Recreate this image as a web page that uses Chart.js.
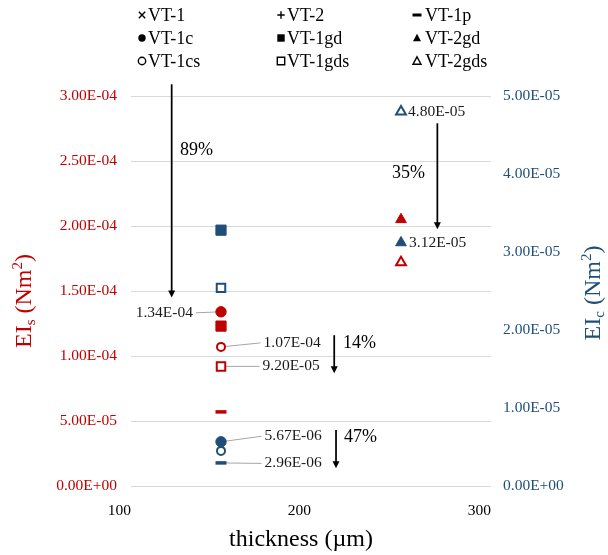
<!DOCTYPE html>
<html>
<head>
<meta charset="utf-8">
<script src="https://cdn.jsdelivr.net/npm/chart.js@4/dist/chart.umd.min.js"></script>
<style>
  body { margin: 0; background: #fff; }
  #wrap { width: 608px; height: 555px; }
</style>
</head>
<body>
<div id="wrap"><canvas id="eiChart" width="608" height="555"></canvas></div>
<script>
// specimens and values
const specimens = ['VT-1', 'VT-2', 'VT-1p', 'VT-1c', 'VT-1gd', 'VT-2gd', 'VT-1cs', 'VT-1gds', 'VT-2gds'];
const thickness = [null, null, 150, 150, 150, 250, 150, 150, 250];
const eiS = [null, null, 5.7e-5, 1.34e-4, 1.23e-4, 2.05e-4, 1.07e-4, 9.2e-5, 1.72e-4];
const eiC = [null, null, 2.96e-6, 5.67e-6, 3.28e-5, 3.12e-5, 4.5e-6, 2.54e-5, 4.8e-5];
const reductions = ['89%', '14%', '47%', '35%'];

const RED = '#C00000';
const BLUE = '#1F4E79';
const FONT = 'Liberation Serif';

const markers = ['crossRot', 'cross', 'dash', 'circle', 'rect', 'triangle', 'circle', 'rect', 'triangle'];
const filled = [true, true, true, true, true, true, false, false, false];

function fmt(v) {
    const [m, e] = Number(v).toExponential(2).split('e');
    const n = parseInt(e, 10);
    return m + 'E' + (n < 0 ? '-' : '+') + String(Math.abs(n)).padStart(2, '0');
}

function pointSize(style, isFilled) {
    if (style === 'circle') return isFilled ? 5.2 : 4;
    if (style === 'rect') return isFilled ? 7.2 : 6;
    if (style === 'triangle') return isFilled ? 6.2 : 5.7;
    if (style === 'dash') return 5.5;
    return 5;
}

function makeSet(i, values, axis, color) {
    const data = values[i] == null ? [] : [{ x: thickness[i], y: values[i] }];
    const st = markers[i];
    return {
        label: specimens[i] + (axis === 'yS' ? ' EIs' : ' EIc'),
        data: data,
        yAxisID: axis,
        // 'line' is the centred dash in Chart.js
        pointStyle: st === 'dash' ? 'line' : st,
        pointRadius: pointSize(st, filled[i]),
        backgroundColor: filled[i] ? color : '#ffffff',
        borderColor: color,
        borderWidth: st === 'dash' ? 3.5 : (filled[i] ? 1 : 2),
        showLine: false
    };
}

const datasets = [];
specimens.forEach((s, i) => {
    datasets.push(makeSet(i, eiS, 'yS', RED));
    datasets.push(makeSet(i, eiC, 'yC', BLUE));
});

// arrows + percentage notes, in data units of thickness / left axis
const arrows = [
    { x: 122.6, from: 3.09e-4, to: 1.45e-4, tx: 127.2, ty: 2.585e-4, text: reductions[0] },
    { x: 212.9, from: 1.16e-4, to: 8.67e-5, tx: 217.8, ty: 1.10e-4, text: reductions[1] },
    { x: 213.9, from: 4.31e-5, to: 1.36e-5, tx: 218.3, ty: 3.77e-5, text: reductions[2] },
    { x: 270.2, from: 2.79e-4, to: 1.975e-4, tx: 245, ty: 2.408e-4, text: reductions[3] }
];

// value labels next to points (pixel offsets from the point)
const valueLabels = [
    { i: 3, axis: 'yS', dx: -28, dy: 1, align: 'right', leader: true },
    { i: 6, axis: 'yS', dx: 42.5, dy: -4, align: 'left', leader: true },
    { i: 7, axis: 'yS', dx: 41.5, dy: 0, align: 'left', leader: true },
    { i: 3, axis: 'yC', dx: 43.5, dy: -5.5, align: 'left', leader: true },
    { i: 2, axis: 'yC', dx: 43.5, dy: 0.5, align: 'left', leader: true },
    { i: 8, axis: 'yC', dx: 7, dy: 0, align: 'left', leader: false },
    { i: 5, axis: 'yC', dx: 8, dy: 0, align: 'left', leader: false }
];

function labelPos(chart, l) {
    const vals = l.axis === 'yS' ? eiS : eiC;
    const px = chart.scales.x.getPixelForValue(thickness[l.i]);
    const py = chart.scales[l.axis].getPixelForValue(vals[l.i]);
    return { px, py, value: vals[l.i] };
}

function legendMarker(ctx, style, isFilled, x, y) {
    const r = 3.7;
    ctx.save();
    ctx.fillStyle = '#000';
    ctx.strokeStyle = '#000';
    ctx.lineWidth = 1.4;
    ctx.beginPath();
    if (style === 'circle') {
        ctx.arc(x, y, r, 0, Math.PI * 2);
    } else if (style === 'rect') {
        ctx.rect(x - r, y - r, 2 * r, 2 * r);
    } else if (style === 'triangle') {
        ctx.moveTo(x, y - r - 0.5);
        ctx.lineTo(x + r + 0.3, y + r - 0.5);
        ctx.lineTo(x - r - 0.3, y + r - 0.5);
        ctx.closePath();
    } else if (style === 'cross') {
        ctx.moveTo(x - r, y); ctx.lineTo(x + r, y);
        ctx.moveTo(x, y - r); ctx.lineTo(x, y + r);
        isFilled = false;
    } else if (style === 'crossRot') {
        ctx.moveTo(x - r + 0.5, y - r + 0.5); ctx.lineTo(x + r - 0.5, y + r - 0.5);
        ctx.moveTo(x + r - 0.5, y - r + 0.5); ctx.lineTo(x - r + 0.5, y + r - 0.5);
        isFilled = false;
    } else if (style === 'dash') {
        ctx.moveTo(x - 4.5, y); ctx.lineTo(x + 4.5, y);
        ctx.lineWidth = 3;
        isFilled = false;
    }
    if (isFilled) ctx.fill(); else ctx.stroke();
    ctx.restore();
}

function rotatedTitle(ctx, cx, cy, sub, color) {
    const big = '24px "' + FONT + '"';
    const small = '15px "' + FONT + '"';
    ctx.save();
    ctx.translate(cx, cy);
    ctx.rotate(-Math.PI / 2);
    ctx.fillStyle = color;
    ctx.textBaseline = 'middle';
    ctx.textAlign = 'left';
    const parts = [
        { t: 'EI', f: big, dy: 0 },
        { t: sub, f: small, dy: 6 },
        { t: ' (Nm', f: big, dy: 0 },
        { t: '2', f: small, dy: -7 },
        { t: ')', f: big, dy: 0 }
    ];
    let total = 0;
    parts.forEach(p => { ctx.font = p.f; p.w = ctx.measureText(p.t).width; total += p.w; });
    let x = -total / 2;
    parts.forEach(p => { ctx.font = p.f; ctx.fillText(p.t, x, p.dy); x += p.w; });
    ctx.restore();
}

const annot = {
    id: 'annot',
    beforeDatasetsDraw(chart) {
        const ctx = chart.ctx;
        ctx.save();
        ctx.strokeStyle = '#A6A6A6';
        ctx.lineWidth = 1;
        valueLabels.forEach(l => {
            if (!l.leader) return;
            const p = labelPos(chart, l);
            const sx = l.align === 'left' ? p.px + l.dx - 3 : p.px + l.dx + 3;
            ctx.beginPath();
            ctx.moveTo(sx, p.py + l.dy);
            ctx.lineTo(p.px, p.py);
            ctx.stroke();
        });
        ctx.restore();
    },
    afterDatasetsDraw(chart) {
        const ctx = chart.ctx;
        const xs = chart.scales.x, ys = chart.scales.yS;
        ctx.save();
        arrows.forEach(a => {
            const x = xs.getPixelForValue(a.x);
            const y1 = ys.getPixelForValue(a.from);
            const y2 = ys.getPixelForValue(a.to);
            ctx.strokeStyle = '#000';
            ctx.fillStyle = '#000';
            ctx.lineWidth = 1.75;
            ctx.beginPath();
            ctx.moveTo(x, y1);
            ctx.lineTo(x, y2 - 6);
            ctx.stroke();
            ctx.beginPath();
            ctx.moveTo(x - 3.5, y2 - 7);
            ctx.lineTo(x + 3.5, y2 - 7);
            ctx.lineTo(x, y2);
            ctx.closePath();
            ctx.fill();
            ctx.font = '18px "' + FONT + '"';
            ctx.textAlign = 'left';
            ctx.textBaseline = 'middle';
            ctx.fillText(a.text, xs.getPixelForValue(a.tx), ys.getPixelForValue(a.ty));
        });
        ctx.font = '15.5px "' + FONT + '"';
        ctx.fillStyle = '#1a1a1a';
        ctx.textBaseline = 'middle';
        valueLabels.forEach(l => {
            const p = labelPos(chart, l);
            ctx.textAlign = l.align;
            ctx.fillText(fmt(p.value), p.px + l.dx, p.py + l.dy);
        });
        ctx.restore();
    },
    afterDraw(chart) {
        const ctx = chart.ctx;
        // axis titles
        rotatedTitle(ctx, 25, 301, 's', RED);
        rotatedTitle(ctx, 594, 293, 'c', BLUE);
        ctx.save();
        ctx.font = '24px "' + FONT + '"';
        ctx.fillStyle = '#000';
        ctx.textAlign = 'center';
        ctx.textBaseline = 'middle';
        ctx.fillText('thickness (\u00B5m)', 301, 540);
        ctx.restore();
        // legend, 3 x 3 grid
        const colMark = [142, 281, 417];
        const colText = [148, 287, 425];
        const rowY = [15, 38, 61];
        ctx.save();
        specimens.forEach((s, i) => {
            const c = i % 3, r = Math.floor(i / 3);
            legendMarker(ctx, markers[i], filled[i], colMark[c], rowY[r]);
            ctx.font = '18px "' + FONT + '"';
            ctx.fillStyle = '#000';
            ctx.textAlign = 'left';
            ctx.textBaseline = 'middle';
            ctx.fillText(s, colText[c], rowY[r] + 1);
        });
        ctx.restore();
    }
};

const ctx = document.getElementById('eiChart').getContext('2d');

const chart = new Chart(ctx, {
    type: 'scatter',
    data: { datasets: datasets },
    plugins: [annot],
    options: {
        responsive: false,
        animation: false,
        layout: { padding: { top: 96, left: 0, right: 0, bottom: 0 } },
        plugins: {
            legend: { display: false },
            tooltip: { enabled: false }
        },
        scales: {
            x: {
                type: 'linear',
                position: 'bottom',
                min: 100,
                max: 300,
                afterFit: s => { s.height = 69; },
                grid: { display: false },
                border: { display: false },
                ticks: {
                    stepSize: 100,
                    align: 'end',
                    padding: 8,
                    color: '#000',
                    font: { family: FONT, size: 15.5 }
                }
            },
            yS: {
                type: 'linear',
                position: 'left',
                min: 0,
                max: 3e-4,
                afterFit: s => { s.width = 131; },
                grid: { color: '#D9D9D9', lineWidth: 1, drawTicks: false },
                border: { display: false },
                ticks: {
                    stepSize: 5e-5,
                    padding: 14,
                    color: RED,
                    font: { family: FONT, size: 15.5 },
                    callback: v => fmt(v)
                }
            },
            yC: {
                type: 'linear',
                position: 'right',
                min: 0,
                max: 5e-5,
                afterFit: s => { s.width = 117; },
                grid: { display: false, drawTicks: false },
                border: { display: false },
                ticks: {
                    stepSize: 1e-5,
                    padding: 12,
                    color: BLUE,
                    font: { family: FONT, size: 15.5 },
                    callback: v => fmt(v)
                }
            }
        }
    }
});
</script>
</body>
</html>
